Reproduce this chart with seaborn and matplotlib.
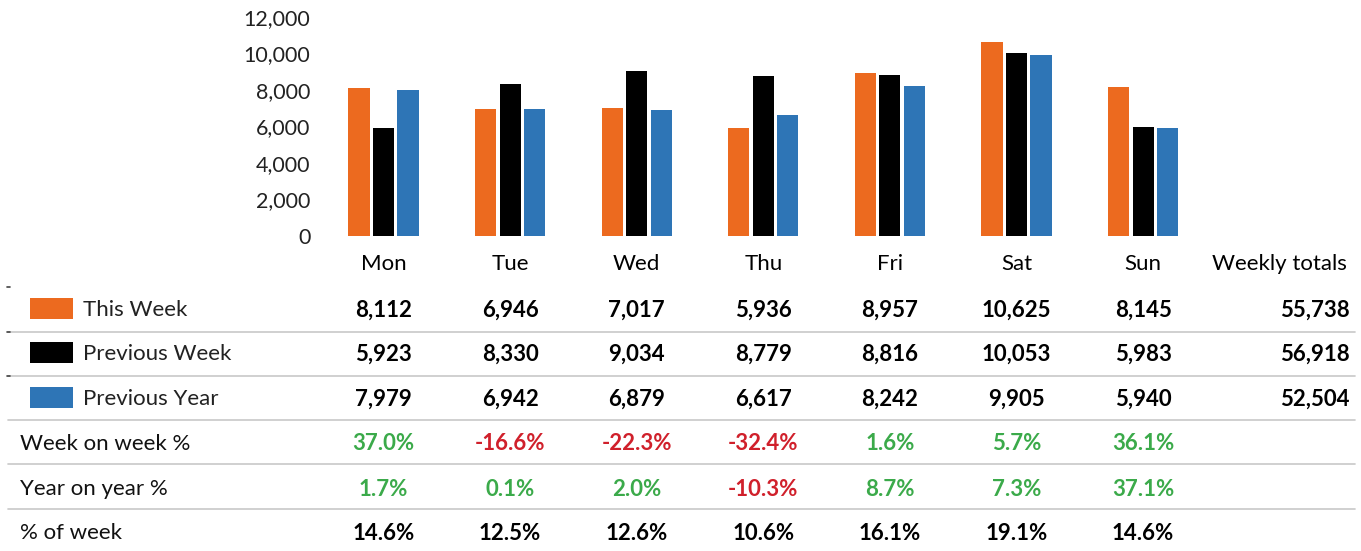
import matplotlib
matplotlib.use("Agg")
import matplotlib.pyplot as plt
import seaborn as sns
import pandas as pd
from matplotlib.patches import Rectangle
from matplotlib.lines import Line2D
from matplotlib.transforms import blended_transform_factory

days = ["Mon", "Tue", "Wed", "Thu", "Fri", "Sat", "Sun"]
series_names = ["This Week", "Previous Week", "Previous Year"]
this_week = [8112, 6946, 7017, 5936, 8957, 10625, 8145]
previous_week = [5923, 8330, 9034, 8779, 8816, 10053, 5983]
previous_year = [7979, 6942, 6879, 6617, 8242, 9905, 5940]
weekly_totals = ["55,738", "56,918", "52,504"]
week_on_week = ["37.0%", "-16.6%", "-22.3%", "-32.4%", "1.6%", "5.7%", "36.1%"]
year_on_year = ["1.7%", "0.1%", "2.0%", "-10.3%", "8.7%", "7.3%", "37.1%"]
pct_of_week = ["14.6%", "12.5%", "12.6%", "10.6%", "16.1%", "19.1%", "14.6%"]
y_ticks = [0, 2000, 4000, 6000, 8000, 10000, 12000]

colors = ["#EC6A1F", "#000000", "#2E75B6"]
GREEN = "#3BAA4A"
RED = "#D0202B"
LINE = "#C8C8C8"

sns.set_theme(style="white")
plt.rcParams["font.family"] = ["Lato", "DejaVu Sans"]

FS_LABEL = 16
FS_NUM = 16
FS_TICK = 15.5

W, H = 1361, 551
fig = plt.figure(figsize=(W / 100, H / 100), dpi=100)

# axes geometry in pixels
x0 = 320.2
unit = 126.6
ax_w = unit * 8.1
base_y = 236
top_y = 17
ax = fig.add_axes([x0 / W, 1 - base_y / H, ax_w / W, (base_y - top_y) / H])

rows = []
for name, vals in zip(series_names, [this_week, previous_week, previous_year]):
    for d, v in zip(days, vals):
        rows.append({"day": d, "series": name, "value": v})
df = pd.DataFrame(rows)

sns.barplot(data=df, x="day", y="value", hue="series", order=days,
            hue_order=series_names, palette=colors, width=0.58, gap=0.14,
            legend=False, ax=ax, linewidth=0, saturation=1)

ax.set_xlim(-0.5, 7.6)
ax.set_ylim(0, 12000)
ax.set_yticks(y_ticks)
ax.set_yticklabels([f"{t:,}" for t in y_ticks], fontsize=FS_TICK, color="#222222")
ax.set_xticks(list(range(7)) + [7.08])
ax.set_xticklabels(days + ["Weekly totals"], fontsize=FS_LABEL, color="#000000")
ax.tick_params(axis="y", length=0, pad=7)
ax.tick_params(axis="x", length=0, pad=13)
ax.set_xlabel("")
ax.set_ylabel("")
for s in ax.spines.values():
    s.set_visible(False)
ax.grid(False)

# table
trans = blended_transform_factory(ax.transData, fig.transFigure)

def fy(py):
    return 1 - py / H

row_y = [308, 352, 397, 442, 487, 531]
sep_y = [332, 376, 420, 464, 509]

for sy in sep_y:
    fig.add_artist(Line2D([8 / W, 1355 / W], [fy(sy), fy(sy)],
                          transform=fig.transFigure, color=LINE, lw=1.2))
for sy in [287, 332, 376]:
    fig.add_artist(Line2D([7 / W, 10 / W], [fy(sy), fy(sy)],
                          transform=fig.transFigure, color="#444444", lw=1.2))

# legend rows
for i, (name, c) in enumerate(zip(series_names, colors)):
    yc = row_y[i]
    fig.add_artist(Rectangle((30 / W, fy(yc + 10.5)), 43 / W, 21 / H,
                             transform=fig.transFigure, facecolor=c,
                             edgecolor="none"))
    fig.text(83 / W, fy(yc), name, fontsize=FS_LABEL, color="#222222",
             va="center_baseline", ha="left")

label_rows = ["Week on week %", "Year on year %", "% of week"]
for i, lab in enumerate(label_rows):
    fig.text(20 / W, fy(row_y[3 + i]), lab, fontsize=FS_LABEL, color="#111111",
             va="center_baseline", ha="left")

def fmt(v):
    return f"{v:,}"

value_rows = [[fmt(v) for v in this_week], [fmt(v) for v in previous_week],
              [fmt(v) for v in previous_year]]
for r, vals in enumerate(value_rows):
    for i, t in enumerate(vals):
        ax.text(i, fy(row_y[r]), t, transform=trans, ha="center",
                va="center_baseline", fontsize=FS_NUM, fontweight="bold",
                color="#000000")
    fig.text(1350 / W, fy(row_y[r]), weekly_totals[r], ha="right",
             va="center_baseline", fontsize=FS_NUM, fontweight="bold",
             color="#000000")

for r, vals in enumerate([week_on_week, year_on_year]):
    for i, t in enumerate(vals):
        c = RED if t.startswith("-") else GREEN
        ax.text(i, fy(row_y[3 + r]), t, transform=trans, ha="center",
                va="center_baseline", fontsize=FS_NUM, fontweight="bold", color=c)

for i, t in enumerate(pct_of_week):
    ax.text(i, fy(row_y[5]), t, transform=trans, ha="center",
            va="center_baseline", fontsize=FS_NUM, fontweight="bold",
            color="#000000")

fig.savefig("out.png", dpi=100)
